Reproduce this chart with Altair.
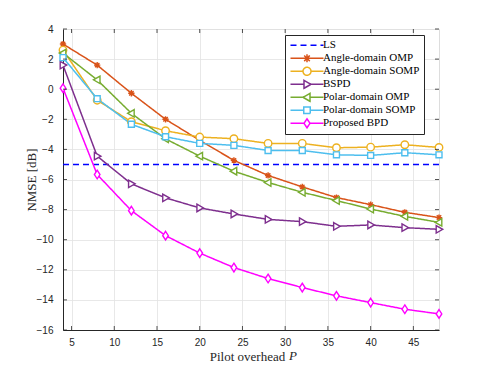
import altair as alt
import pandas as pd

P = [4, 8, 12, 16, 20, 24, 28, 32, 36, 40, 44, 48]

series = ["LS", "Angle-domain OMP", "Angle-domain SOMP", "BSPD",
          "Polar-domain OMP", "Polar-domain SOMP", "Proposed BPD"]
colors = ["#0000FF", "#D95319", "#EDB120", "#7E2F8E", "#77AC30", "#4DBEEE", "#FF00FF"]

x_ticks = [5, 10, 15, 20, 25, 30, 35, 40, 45]
y_ticks = [-16, -14, -12, -10, -8, -6, -4, -2, 0, 2, 4]

ls = [-5.0, -5.0, -5.0, -5.0, -5.0, -5.0, -5.0, -5.0, -5.0, -5.0, -5.0, -5.0]
angle_omp = [3.0, 1.6, -0.27, -2.0, -3.4, -4.73, -5.73, -6.49, -7.2, -7.67, -8.18, -8.53]
angle_somp = [2.6, -0.73, -2.16, -2.76, -3.18, -3.29, -3.6, -3.6, -3.89, -3.85, -3.69, -3.87]
bspd = [1.6, -4.45, -6.29, -7.22, -7.89, -8.29, -8.65, -8.8, -9.11, -9.02, -9.2, -9.31]
polar_omp = [2.4, 0.62, -1.6, -3.3, -4.45, -5.45, -6.2, -6.85, -7.4, -7.96, -8.45, -8.85]
polar_somp = [2.1, -0.63, -2.33, -3.16, -3.6, -3.73, -4.07, -4.07, -4.36, -4.4, -4.22, -4.36]
proposed = [0.07, -5.67, -8.07, -9.73, -10.89, -11.85, -12.58, -13.18, -13.73, -14.18, -14.62, -14.93]

values = [ls, angle_omp, angle_somp, bspd, polar_omp, polar_somp, proposed]

# plot markers (unit box -1..1)
marker_paths = [
    None,
    "M-1,0H1M0,-1V1M-0.7,-0.7L0.7,0.7M-0.7,0.7L0.7,-0.7",
    "M1,0A1,1 0 1,1 -1,0A1,1 0 1,1 1,0Z",
    "M-0.75,-1L1,0L-0.75,1Z",
    "M0.75,-1L-1,0L0.75,1Z",
    "M-0.8,-0.8H0.8V0.8H-0.8Z",
    "M0,-1.15L0.75,0L0,1.15L-0.75,0Z",
]
# legend symbols: line + marker
legend_paths = [
    "M-3.3,0H3.3",
    "M-3.3,0H3.3M0,-0.8V0.8M-0.56,-0.56L0.56,0.56M-0.56,0.56L0.56,-0.56",
    "M-3.3,0H-0.8M0.8,0H3.3M0.8,0A0.8,0.8 0 1,1 -0.8,0A0.8,0.8 0 1,1 0.8,0Z",
    "M-3.3,0H-0.6M0.8,0H3.3M-0.6,-0.8L0.8,0L-0.6,0.8Z",
    "M-3.3,0H-0.8M0.6,0H3.3M0.6,-0.8L-0.8,0L0.6,0.8Z",
    "M-3.3,0H-0.65M0.65,0H3.3M-0.65,-0.65H0.65V0.65H-0.65Z",
    "M-3.3,0H-0.6M0.6,0H3.3M0,-0.9L0.6,0L0,0.9L-0.6,0Z",
]
dashes = [[6, 4], [1, 0], [1, 0], [1, 0], [1, 0], [1, 0], [1, 0]]

rows = []
for s, v in zip(series, values):
    for p, y in zip(P, v):
        rows.append({"series": s, "P": p, "nmse": y})
df = pd.DataFrame(rows)

W, H = 376, 301

axis_common = dict(labelFont="Liberation Sans", labelFontSize=10, labelColor="#262626",
                   titleFont="Liberation Serif", titleFontSize=13, titleFontWeight="normal",
                   titleColor="#262626", gridColor="#e2e2e2", gridWidth=0.8,
                   domainColor="#262626", ticks=False)

x_scale = alt.Scale(domain=[4, 48], nice=False, zero=False)
y_scale = alt.Scale(domain=[-16, 4], nice=False, zero=False)

x_enc = alt.X("P:Q", scale=x_scale,
              axis=alt.Axis(values=x_ticks,
                            title="Pilot overhead", titleX=184, titleAlign="center",
                            labelPadding=7, titlePadding=3, **axis_common))
y_enc = alt.Y("nmse:Q", scale=y_scale,
              axis=alt.Axis(values=y_ticks, title="NMSE [dB]",
                            titleX=-25, labelPadding=10, **axis_common))

color_scale = alt.Scale(domain=series, range=colors)
dash_scale = alt.Scale(domain=series, range=dashes)

legend = alt.Legend(title=None, orient="none", legendX=222, legendY=6,
                    symbolSize=100, symbolStrokeWidth=1.5,
                    symbolOffset=12, labelOffset=10,
                    symbolFillColor="white",
                    labelFont="Liberation Serif", labelFontSize=11,
                    labelColor="#000000", rowPadding=0, clipHeight=12.6,
                    padding=4, fillColor="white",
                    strokeColor="#262626")

base = alt.Chart(df)

lines = base.mark_line(strokeWidth=1.5).encode(
    x=x_enc, y=y_enc,
    color=alt.Color("series:N", scale=color_scale, legend=legend),
    strokeDash=alt.StrokeDash("series:N", scale=dash_scale, legend=legend),
    detail="series:N",
)

layers = [lines]
for s, c, m in zip(series, colors, marker_paths):
    if m is None:
        continue
    pts = base.transform_filter(alt.datum.series == s).mark_point(
        filled=False, fill="white", fillOpacity=1, opacity=1, strokeWidth=1.4,
        size=56 if s != "Angle-domain OMP" else 40
    ).encode(x=x_enc, y=y_enc, shape=alt.value(m), color=alt.value(c))
    layers.append(pts)

legend_layer = base.transform_filter("false").mark_point(filled=False, opacity=1).encode(
    x=x_enc, y=y_enc,
    color=alt.Color("series:N", scale=color_scale, legend=legend),
    shape=alt.Shape("series:N", scale=alt.Scale(domain=series, range=legend_paths), legend=legend),
    strokeDash=alt.StrokeDash("series:N", scale=dash_scale, legend=legend),
)
layers.append(legend_layer)

# inward tick marks on all four sides (MATLAB box style)
xt = alt.Chart(pd.DataFrame({"P": x_ticks}))
yt = alt.Chart(pd.DataFrame({"nmse": y_ticks}))
tick_style = dict(color="#262626", strokeWidth=0.8)
layers += [
    xt.mark_rule(**tick_style).encode(x=x_enc, y=alt.value(H), y2=alt.value(H - 4)),
    xt.mark_rule(**tick_style).encode(x=x_enc, y=alt.value(0), y2=alt.value(4)),
    yt.mark_rule(**tick_style).encode(y=y_enc, x=alt.value(0), x2=alt.value(4)),
    yt.mark_rule(**tick_style).encode(y=y_enc, x=alt.value(W), x2=alt.value(W - 4)),
]

# italic variable of the x-axis title
p_label = alt.Chart(pd.DataFrame({"t": ["P"]})).mark_text(
    font="Liberation Serif", fontSize=13, fontStyle="italic", color="#262626",
    align="left", baseline="alphabetic"
).encode(text="t:N", x=alt.value(226), y=alt.value(331))
layers.append(p_label)

chart = alt.layer(*layers).properties(
    width=W, height=H,
    autosize=alt.AutoSizeParams(type="none"),
    padding={"left": 55, "top": 21, "right": 38, "bottom": 32},
).configure_view(
    stroke="#262626", strokeWidth=1
).configure(background="white")

chart.save("out.html", embed_options={"renderer": "svg", "actions": False})
